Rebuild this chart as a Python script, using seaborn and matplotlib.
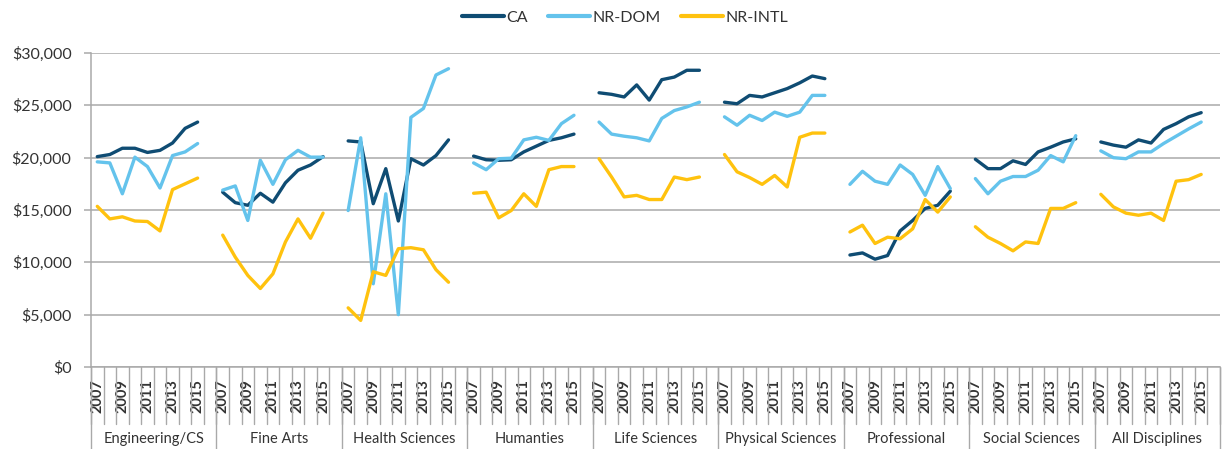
import matplotlib
matplotlib.use("Agg")
import matplotlib.pyplot as plt
import matplotlib.transforms as mtransforms
from matplotlib.ticker import FuncFormatter, MultipleLocator
import numpy as np
import pandas as pd
import seaborn as sns

# Median stipend by discipline, 2007-2015
disciplines = ["Engineering/CS", "Fine Arts", "Health Sciences", "Humanties",
               "Life Sciences", "Physical Sciences", "Professional",
               "Social Sciences", "All Disciplines"]
years = [2007, 2008, 2009, 2010, 2011, 2012, 2013, 2014, 2015]
series_names = ["CA", "NR-DOM", "NR-INTL"]

ca = [
    [20100, 20300, 20900, 20900, 20500, 20700, 21400, 22800, 23400],
    [16700, 15700, 15450, 16600, 15750, 17600, 18800, 19300, 20100],
    [21600, 21500, 15600, 18950, 13950, 19900, 19300, 20200, 21700],
    [20150, 19800, 19750, 19800, 20550, 21100, 21650, 21900, 22250],
    [26200, 26050, 25800, 26950, 25500, 27450, 27700, 28350, 28350],
    [25300, 25150, 25950, 25800, 26200, 26600, 27150, 27800, 27550],
    [10700, 10900, 10300, 10650, 13000, 14000, 15150, 15450, 16800],
    [19850, 18950, 18950, 19700, 19350, 20550, 21000, 21500, 21800],
    [21500, 21200, 21000, 21700, 21400, 22700, 23250, 23900, 24300],
]
nr_dom = [
    [19600, 19500, 16550, 20050, 19150, 17100, 20200, 20550, 21350],
    [16900, 17300, 14000, 19750, 17450, 19800, 20700, 20050, 20050],
    [14950, 21900, 7950, 16550, 5000, 23850, 24700, 27900, 28500],
    [19500, 18850, 19900, 19950, 21700, 21950, 21650, 23250, 24050],
    [23400, 22250, 22050, 21900, 21600, 23750, 24500, 24850, 25300],
    [23900, 23100, 24050, 23550, 24350, 23950, 24350, 25950, 25950],
    [17450, 18700, 17750, 17450, 19300, 18400, 16400, 19150, 17050],
    [18000, 16550, 17750, 18200, 18200, 18800, 20200, 19600, 22100],
    [20650, 20000, 19900, 20550, 20550, 21350, 22050, 22750, 23400],
]
nr_intl = [
    [15350, 14150, 14350, 13950, 13900, 13000, 16950, 17500, 18050],
    [12600, 10500, 8750, 7500, 8900, 11950, 14150, 12300, 14700],
    [5650, 4450, 9100, 8750, 11300, 11400, 11200, 9300, 8100],
    [16600, 16700, 14250, 14950, 16550, 15350, 18850, 19150, 19150],
    [19900, 18150, 16250, 16400, 16000, 16000, 18150, 17900, 18150],
    [20300, 18650, 18100, 17450, 18300, 17200, 21950, 22350, 22350],
    [12900, 13550, 11800, 12400, 12250, 13200, 16000, 14800, 16250],
    [13400, 12400, 11800, 11100, 11950, 11800, 15150, 15150, 15700],
    [16500, 15300, 14700, 14500, 14700, 14000, 17750, 17900, 18400],
]

palette = {"CA": "#0F4C73", "NR-DOM": "#64C3EC", "NR-INTL": "#FFC20E"}

# Each discipline occupies 9 year slots plus one empty slot as a spacer
slots_per_group = len(years) + 1
rows = []
for name, values in zip(series_names, [ca, nr_dom, nr_intl]):
    for g, disc in enumerate(disciplines):
        for j, yr in enumerate(years):
            rows.append({"discipline": disc, "year": yr,
                         "slot": g * slots_per_group + j,
                         "series": name, "value": values[g][j]})
df = pd.DataFrame(rows)

sns.set_theme(style="white")
plt.rcParams["font.family"] = ["Lato", "DejaVu Sans"]

W, H = 1227, 449
fig = plt.figure(figsize=(W / 100, H / 100), dpi=100)
ax_left, ax_right, ax_top, ax_bottom = 91, 1220, 53, 367
ax = fig.add_axes([ax_left / W, (H - ax_bottom) / H,
                   (ax_right - ax_left) / W, (ax_bottom - ax_top) / H])
ax_h = ax_bottom - ax_top

sns.lineplot(data=df, x="slot", y="value", hue="series", units="discipline",
             estimator=None, palette=palette, hue_order=series_names,
             linewidth=2.4, ax=ax)

grid_col = "#A9A9A9"
text_col = "#333333"
n_slots = len(disciplines) * slots_per_group
ax.set_xlim(-0.5, n_slots - 0.5)
ax.set_ylim(0, 30000)
ax.yaxis.set_major_locator(MultipleLocator(5000))
ax.yaxis.set_major_formatter(FuncFormatter(lambda v, _: f"${v:,.0f}"))
ax.yaxis.grid(True, color=grid_col, linewidth=1.1)
ax.set_axisbelow(True)
for side in ["top", "right"]:
    ax.spines[side].set_visible(False)
for side in ["left", "bottom"]:
    ax.spines[side].set_color(grid_col)
    ax.spines[side].set_linewidth(1.1)
ax.tick_params(axis="y", which="major", direction="out", length=5, width=1.1,
               color=grid_col, labelsize=11.5, labelcolor=text_col, pad=9, left=True)
ax.set_xlabel("")
ax.set_ylabel("")

# Year labels on every other slot
tick_pos, tick_lab = [], []
for g in range(len(disciplines)):
    for j, yr in enumerate(years):
        if j % 2 == 0:
            tick_pos.append(g * slots_per_group + j)
            tick_lab.append(str(yr))
ax.set_xticks(tick_pos)
ax.set_xticklabels(tick_lab, rotation=90, fontsize=10.5, color=text_col,
                   fontweight="bold")
ax.tick_params(axis="x", length=0, pad=9, bottom=True)

trans = mtransforms.blended_transform_factory(ax.transData, ax.transAxes)
# Short dividers between year slots
year_len = 57 / ax_h
for k in range(n_slots + 1):
    ax.plot([k - 0.5, k - 0.5], [0, -year_len], transform=trans,
            color=grid_col, lw=1.0, clip_on=False)
# Long dividers between disciplines
grp_len = (H - ax_bottom) / ax_h
for g in range(len(disciplines) + 1):
    x = g * slots_per_group - 0.5
    ax.plot([x, x], [0, -grp_len], transform=trans,
            color=grid_col, lw=1.0, clip_on=False)
# Discipline names
for g, disc in enumerate(disciplines):
    ax.text(g * slots_per_group + (slots_per_group - 1) / 2, -72 / ax_h, disc,
            transform=trans, ha="center", va="center", fontsize=10.5,
            color=text_col)

handles, labels = ax.get_legend_handles_labels()
ax.get_legend().remove()
leg = fig.legend(handles, labels, loc="center", bbox_to_anchor=(625 / W, 1 - 18 / H),
                 ncol=3, frameon=False, handlelength=2.6, handletextpad=0.15,
                 columnspacing=1.3, fontsize=11.5)
for line in leg.get_lines():
    line.set_linewidth(3)
for t in leg.get_texts():
    t.set_color(text_col)

fig.savefig("out.png", dpi=100, facecolor="white")
